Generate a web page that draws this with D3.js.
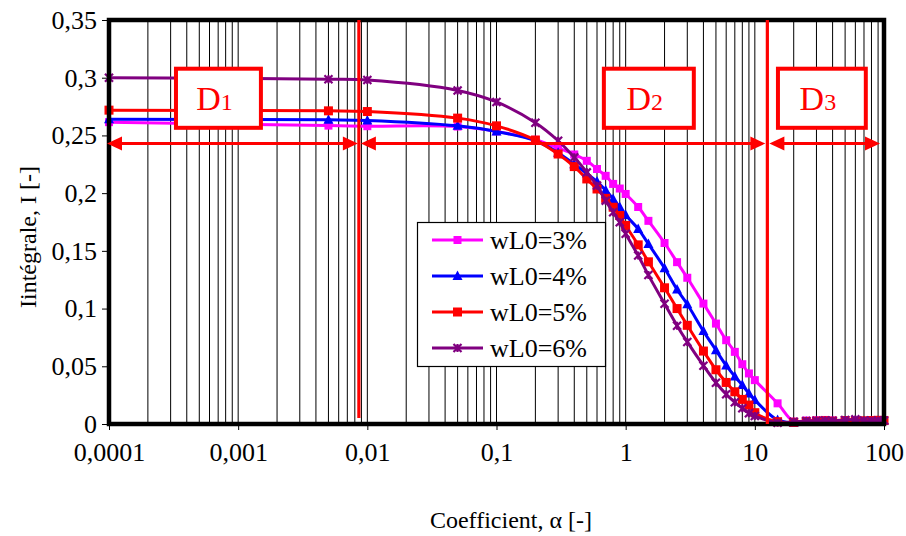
<!DOCTYPE html>
<html><head><meta charset="utf-8">
<script src="https://cdn.jsdelivr.net/npm/d3@7"></script>
<style>body{margin:0;background:#fff} text{font-family:"Liberation Serif","Times New Roman",serif}</style>
</head><body><svg id="c" width="906" height="536"></svg>
<script>
const alpha = [0.0001,0.005,0.01,0.05,0.1,0.2,0.3,0.4,0.5,0.6,0.7,0.8,0.9,1,1.25,1.5,2,2.5,3,4,5,6,7,8,9,10,15,20,25,30,35,40,50,60,70,80,90,100];
const seriesNames = ["wL0=3%","wL0=4%","wL0=5%","wL0=6%"];
const w3 = [0.2615,0.2585,0.2580,0.2577,0.2535,0.2462,0.2390,0.2335,0.2280,0.2209,0.2150,0.2080,0.2040,0.1993,0.1880,0.1760,0.1568,0.1402,0.1267,0.1043,0.0870,0.0726,0.0625,0.0518,0.0438,0.0380,0.0179,0.0020,0.0030,0.0032,0.0035,0.0030,0.0028,0.0030,0.0025,0.0030,0.0028,0.0030];
const w4 = [0.2640,0.2635,0.2630,0.2583,0.2534,0.2454,0.2350,0.2250,0.2170,0.2100,0.2025,0.1950,0.1880,0.1810,0.1690,0.1560,0.1350,0.1165,0.1037,0.0805,0.0640,0.0507,0.0412,0.0337,0.0265,0.0207,0.0035,0.0010,0.0020,0.0025,0.0022,0.0025,0.0020,0.0025,0.0022,0.0025,0.0028,0.0030];
const w5 = [0.2719,0.2713,0.2707,0.2650,0.2583,0.2460,0.2339,0.2230,0.2123,0.2036,0.1955,0.1878,0.1806,0.1720,0.1552,0.1405,0.1180,0.1000,0.0855,0.0632,0.0470,0.0360,0.0279,0.0213,0.0164,0.0098,0.0020,0.0015,0.0022,0.0025,0.0028,0.0025,0.0030,0.0025,0.0028,0.0030,0.0032,0.0030];
const w6 = [0.3000,0.2987,0.2980,0.2890,0.2790,0.2610,0.2454,0.2310,0.2180,0.2065,0.1935,0.1834,0.1748,0.1648,0.1460,0.1290,0.1042,0.0852,0.0711,0.0505,0.0357,0.0258,0.0188,0.0136,0.0093,0.0069,0.0010,0.0020,0.0025,0.0028,0.0030,0.0028,0.0035,0.0040,0.0030,0.0028,0.0030,0.0030];
const seriesColors = ["#ff00ff","#0000ff","#ff0000","#800080"];
const xTicks = [0.0001,0.001,0.01,0.1,1,10,100];
const xTickLabels = ["0,0001","0,001","0,01","0,1","1","10","100"];
const yTicks = [0,0.05,0.1,0.15,0.2,0.25,0.3,0.35];
const yTickLabels = ["0","0,05","0,1","0,15","0,2","0,25","0,3","0,35"];
const zoneBounds = [0.0086, 12.5];
const arrowLevel = 0.243;
const zoneNames = ["1","2","3"];
const xTitle = "Coefficient, α [-]";
const yTitle = "Iintégrale, I [-]";

const svg = d3.select("#c");
const L=109, R=884, T=20, B=424;
const x = d3.scaleLog().domain([0.0001,100]).range([L,R]);
const y = d3.scaleLinear().domain([0,0.35]).range([B,T]);

// vertical grid
const grid = [];
for (let e=-4; e<2; e++) for (let m=1; m<10; m++) grid.push(m*Math.pow(10,e));
svg.append("g").selectAll("line").data(grid.filter(v=>v>0.0001*1.01)).join("line")
  .attr("x1",d=>x(d)).attr("x2",d=>x(d)).attr("y1",T).attr("y2",B)
  .attr("stroke","#000").attr("stroke-width",1);

// axes
const ya = d3.axisLeft(y).tickValues(yTicks).tickFormat((d,i)=>yTickLabels[i]).tickSize(7).tickPadding(5);
const yg = svg.append("g").attr("transform",`translate(${L},0)`).call(ya);
yg.select(".domain").remove();
yg.selectAll("text").attr("font-size",26).attr("fill","#000").attr("font-family","Liberation Serif");
const xa = d3.axisBottom(x).tickValues(xTicks).tickFormat((d,i)=>xTickLabels[i]).tickSize(6).tickPadding(13);
const xg = svg.append("g").attr("transform",`translate(0,${B})`).call(xa);
xg.select(".domain").remove();
xg.selectAll("text").attr("font-size",26).attr("fill","#000").attr("font-family","Liberation Serif");

// series
const series = [w3,w4,w5,w6];
const line = d3.line().x(d=>x(d[0])).y(d=>y(d[1])).curve(d3.curveCatmullRom.alpha(0.5));
function marker(g, k, cx, cy, col){
  if (k===0 || k===2){
    const s = k===0?8:9;
    g.append("rect").attr("x",cx-s/2).attr("y",cy-s/2).attr("width",s).attr("height",s).attr("fill",col);
  } else if (k===1){
    g.append("path").attr("d",`M${cx},${cy-5.5}L${cx+5},${cy+4}L${cx-5},${cy+4}Z`).attr("fill",col);
  } else {
    const r=4;
    g.append("path").attr("d",`M${cx-r},${cy-r}L${cx+r},${cy+r}M${cx-r},${cy+r}L${cx+r},${cy-r}M${cx},${cy-r}L${cx},${cy+r}`)
      .attr("stroke",col).attr("stroke-width",2.2).attr("fill","none");
  }
}
series.forEach((s,k)=>{
  const pts = alpha.map((a,i)=>[a,s[i]]);
  const g = svg.append("g");
  g.append("path").attr("d",line(pts)).attr("fill","none").attr("stroke",seriesColors[k]).attr("stroke-width",3);
  pts.forEach(p=>marker(g,k,x(p[0]),y(p[1]),seriesColors[k]));
});

// frame
svg.append("rect").attr("x",L).attr("y",T).attr("width",R-L).attr("height",B-T)
  .attr("fill","none").attr("stroke","#000").attr("stroke-width",4.5);

// red annotations
const red="#ff0000";
const ann = svg.append("g");
ann.append("line").attr("x1",x(zoneBounds[0])).attr("x2",x(zoneBounds[0])).attr("y1",T).attr("y2",B-6).attr("stroke",red).attr("stroke-width",3.2);
ann.append("line").attr("x1",x(zoneBounds[1])).attr("x2",x(zoneBounds[1])).attr("y1",T).attr("y2",B).attr("stroke",red).attr("stroke-width",3.2);
const ay = y(arrowLevel);
function arrow(x1,x2){
  const hl=15, hw=7;
  ann.append("line").attr("x1",x1+hl-2).attr("x2",x2-hl+2).attr("y1",ay).attr("y2",ay).attr("stroke",red).attr("stroke-width",3.2);
  ann.append("path").attr("d",`M${x1},${ay}L${x1+hl},${ay-hw}L${x1+hl},${ay+hw}Z`).attr("fill",red);
  ann.append("path").attr("d",`M${x2},${ay}L${x2-hl},${ay-hw}L${x2-hl},${ay+hw}Z`).attr("fill",red);
}
const zb0 = x(zoneBounds[0]), zb1 = x(zoneBounds[1]);
arrow(L-2, zb0-1);
arrow(zb0+2, zb1-2);
arrow(zb1+2, R-4);

const boxes = [[0.00033,0.0015],[0.678,3.37],[15.1,72.3]];
boxes.forEach((b,i)=>{
  const x0=x(b[0]), x1=x(b[1]), y0=y(0.3078), y1=y(0.2566);
  ann.append("rect").attr("x",x0).attr("y",y0).attr("width",x1-x0).attr("height",y1-y0)
    .attr("fill","#fff").attr("stroke",red).attr("stroke-width",4);
  const t = ann.append("text").attr("x",(x0+x1)/2-4).attr("y",(y0+y1)/2+12).attr("text-anchor","middle").attr("fill",red).attr("font-size",34);
  t.append("tspan").text("D");
  t.append("tspan").attr("font-size",24).text(zoneNames[i]);
});

// legend
const lg = svg.append("g");
lg.append("rect").attr("x",417.5).attr("y",222.5).attr("width",188).attr("height",144).attr("fill","#fff").attr("stroke","#000").attr("stroke-width",1.2);
seriesNames.forEach((n,k)=>{
  const cy = 240 + k*36;
  lg.append("line").attr("x1",432).attr("x2",483).attr("y1",cy).attr("y2",cy).attr("stroke",seriesColors[k]).attr("stroke-width",3);
  marker(lg,k,457.5,cy,seriesColors[k]);
  lg.append("text").attr("x",490).attr("y",cy+9).attr("font-size",26).attr("fill","#000").text(n);
});

// titles
svg.append("text").attr("x",511).attr("y",528).attr("text-anchor","middle").attr("font-size",24).text(xTitle);
svg.append("text").attr("transform","translate(36,237) rotate(-90)").attr("text-anchor","middle").attr("font-size",24).text(yTitle);
</script></body></html>
